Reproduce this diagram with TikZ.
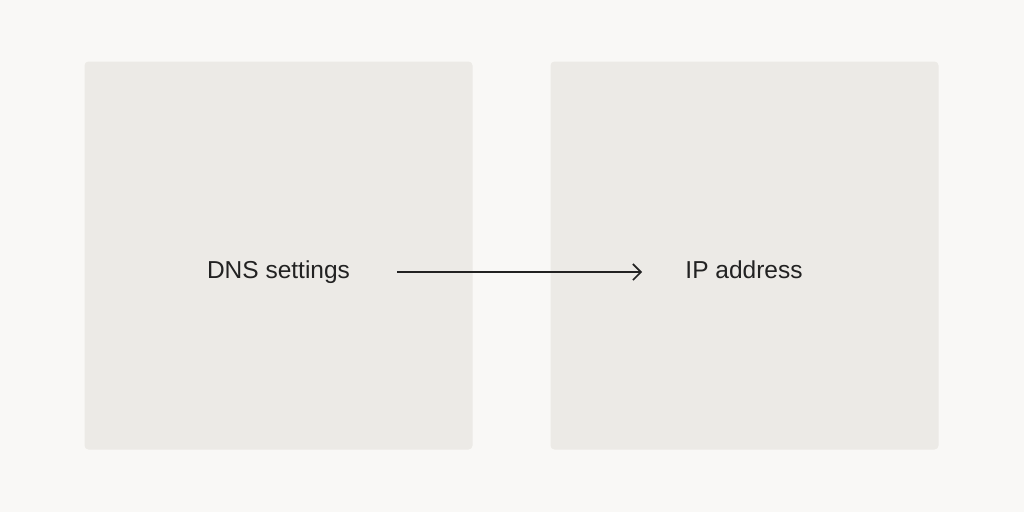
\documentclass[tikz,border=0pt]{standalone}
\usepackage{fontspec}
\setmainfont{Liberation Sans}
\usetikzlibrary{arrows.meta}
\definecolor{bg}{HTML}{F9F8F6}
\definecolor{boxfill}{HTML}{ECEAE6}
\definecolor{ink}{HTML}{222222}
\tikzset{
  panel/.style={fill=boxfill, draw=none, rounded corners=4pt, minimum width=388pt, minimum height=388pt, inner sep=0pt},
  label/.style={text=ink, font=\fontsize{24.5pt}{28pt}\selectfont, inner sep=0pt, anchor=base},
  link/.style={draw=ink, line width=1.6pt, -{Straight Barb[length=8pt,width=16pt,line width=1.6pt]}}
}
\begin{document}
\begin{tikzpicture}[x=1pt,y=-1pt]
\fill[bg] (0,0) rectangle (1024,512);
\useasboundingbox (0,0) rectangle (1024,512);
\node[panel] (left) at (278.5,255.5) {};
\node[panel] (right) at (744.5,255.5) {};
\node[label] (dns) at (278.5,278.5) {DNS settings};
\node[label] (ip) at (744,278.5) {IP address};
\coordinate (a) at (397,272);
\coordinate (b) at (642,272);
\draw[link] (a) -- (b);
\end{tikzpicture}
\end{document}
